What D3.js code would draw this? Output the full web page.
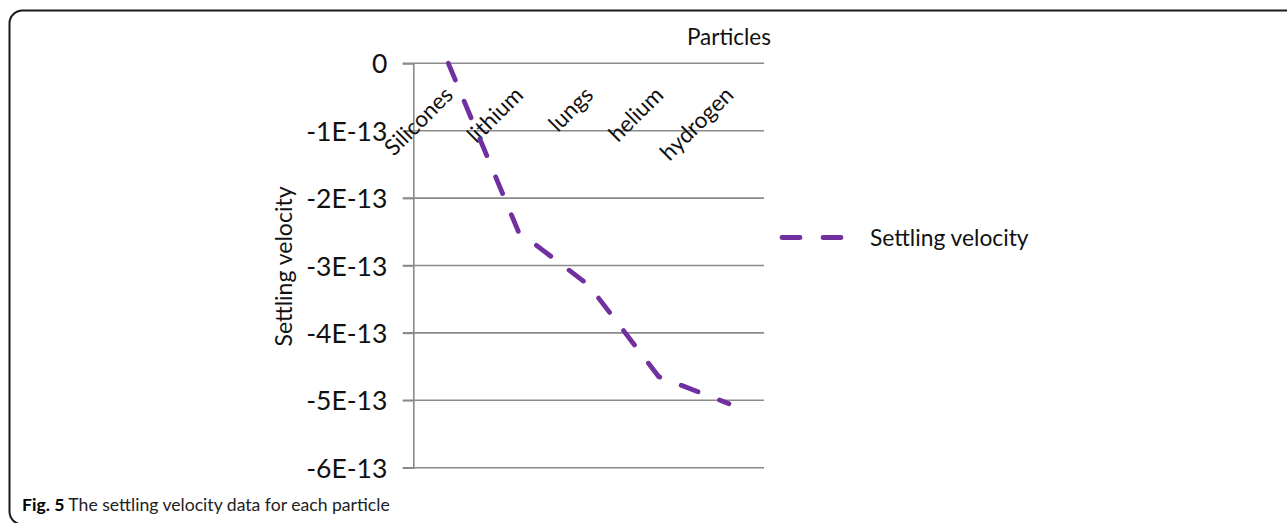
<!DOCTYPE html>
<html>
<head>
<meta charset="utf-8">
<script src="https://cdn.jsdelivr.net/npm/d3@7"></script>
<style>
  html, body { margin: 0; padding: 0; background: #fff; }
  svg { display: block; }
</style>
</head>
<body>
<svg id="chart" width="1287" height="523"></svg>
<script>
// Particle categories and their settling velocities
const categories = ["Silicones", "lithium", "lungs", "helium", "hydrogen"];
const settlingVelocity = [0, -2.5e-13, -3.29e-13, -4.65e-13, -5.05e-13];
const yTicks = [0, -1e-13, -2e-13, -3e-13, -4e-13, -5e-13, -6e-13];
const seriesName = "Settling velocity";
const xTitle = "Particles";
const yTitle = "Settling velocity";
const captionBold = "Fig. 5";
const captionText = " The settling velocity data for each particle";

const svg = d3.select("#chart");
const font = "Lato, 'Open Sans', sans-serif";
const ink = "#111";
const gridColor = "#8a8a8a";
const lineColor = "#7030a0";

// Figure frame
svg.append("rect")
  .attr("x", 9.5).attr("y", 10.5)
  .attr("width", 1320).attr("height", 514)
  .attr("rx", 13).attr("ry", 13)
  .attr("fill", "none")
  .attr("stroke", "#1a1a1a")
  .attr("stroke-width", 2);

// Plot area
const plot = { left: 413.3, right: 764, top: 63.3, bottom: 467.7 };

const x = d3.scaleBand()
  .domain(categories)
  .range([plot.left, plot.right])
  .paddingInner(0).paddingOuter(0);

const y = d3.scaleLinear()
  .domain([-6e-13, 0])
  .range([plot.bottom, plot.top]);

const fmt = v => {
  const k = Math.round(v / 1e-13);
  return k === 0 ? "0" : `${k}E-13`;
};

// Horizontal gridlines (include the top category axis at zero)
svg.append("g")
  .selectAll("line")
  .data(yTicks)
  .join("line")
  .attr("x1", plot.left - 10.5)
  .attr("x2", plot.right)
  .attr("y1", d => y(d))
  .attr("y2", d => y(d))
  .attr("stroke", gridColor)
  .attr("stroke-width", 1.6);

// Value axis
const yAxis = svg.append("g")
  .attr("transform", `translate(${plot.left},0)`)
  .call(d3.axisLeft(y).tickValues(yTicks).tickFormat(fmt).tickSize(10.5).tickPadding(15.5));
yAxis.select(".domain").attr("stroke", gridColor).attr("stroke-width", 1.6);
yAxis.selectAll(".tick line").attr("stroke", gridColor).attr("stroke-width", 1.6);
yAxis.selectAll(".tick text")
  .attr("font-family", font)
  .attr("font-size", 26.5)
  .attr("fill", ink)
  .attr("dy", "0.36em");

// Category labels, rotated beneath the zero line
const catAxis = svg.append("g")
  .attr("transform", `translate(0,${plot.top})`)
  .call(d3.axisBottom(x).tickSize(0).tickPadding(0));
catAxis.select(".domain").remove();
catAxis.selectAll(".tick text")
  .attr("font-family", font)
  .attr("font-size", 22.5)
  .attr("fill", ink)
  .attr("text-anchor", "end")
  .attr("y", 0)
  .attr("dy", 0)
  .attr("transform", "translate(6,33) rotate(-45)");

// Series line
const pts = categories.map((c, i) => [x(c) + x.bandwidth() / 2, y(settlingVelocity[i])]);
svg.append("path")
  .attr("d", d3.line()(pts))
  .attr("fill", "none")
  .attr("stroke", lineColor)
  .attr("stroke-width", 4.8)
  .attr("stroke-linecap", "round")
  .attr("stroke-linejoin", "round")
  .attr("stroke-dasharray", "18 23");

// Axis titles
svg.append("text")
  .attr("x", x("hydrogen") + x.bandwidth() / 2)
  .attr("y", 45)
  .attr("text-anchor", "middle")
  .attr("font-family", font)
  .attr("font-size", 22.5)
  .attr("fill", ink)
  .text(xTitle);

svg.append("text")
  .attr("transform", "translate(292,266.5) rotate(-90)")
  .attr("text-anchor", "middle")
  .attr("font-family", font)
  .attr("font-size", 23)
  .attr("fill", ink)
  .text(yTitle);

// Legend
const legend = svg.append("g").attr("transform", "translate(782,237.5)");
legend.append("line")
  .attr("x1", 0).attr("x2", 60)
  .attr("y1", 0).attr("y2", 0)
  .attr("stroke", lineColor)
  .attr("stroke-width", 4.8)
  .attr("stroke-linecap", "round")
  .attr("stroke-dasharray", "18 23");
legend.append("text")
  .attr("x", 88).attr("y", 8)
  .attr("font-family", font)
  .attr("font-size", 22.8)
  .attr("fill", ink)
  .text(seriesName);

// Caption
const cap = svg.append("text")
  .attr("x", 22).attr("y", 510.5)
  .attr("font-family", font)
  .attr("font-size", 17.6)
  .attr("fill", "#222");
cap.append("tspan").attr("font-weight", "bold").attr("fill", "#000").text(captionBold);
cap.append("tspan").text(captionText);
</script>
</body>
</html>
